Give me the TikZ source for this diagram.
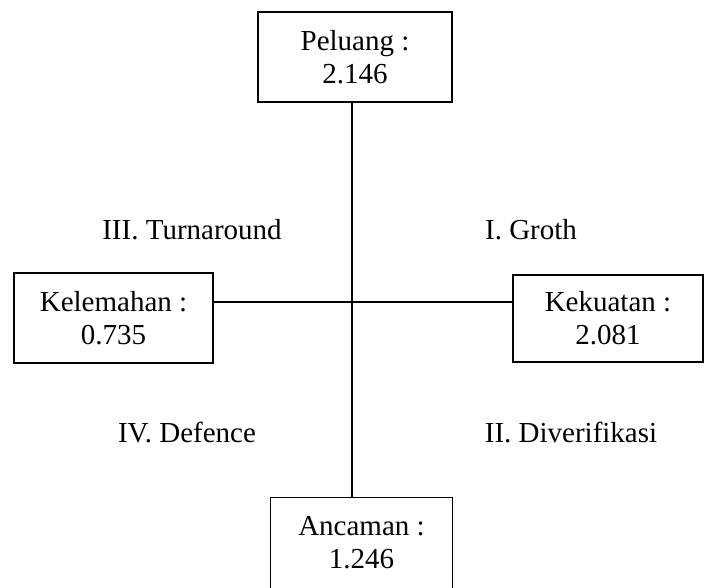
\documentclass[tikz,border=0pt]{standalone}
\usepackage{fontspec}
\setmainfont{Liberation Serif}
\begin{document}
\begin{tikzpicture}[x=1pt,y=-1pt,
  box/.style={draw,line width=1.2pt,inner sep=0pt,align=center,font=\fontsize{29}{33}\selectfont},
  lbl/.style={inner sep=0pt,font=\fontsize{29}{33}\selectfont},
  ln/.style={line width=1.5pt}]
\useasboundingbox (0,0) rectangle (711,587);
\node[box,minimum width=194,minimum height=90] (top) at (355,57) {Peluang :\\2.146};
\node[box,minimum width=199,minimum height=90] (left) at (113.5,318) {Kelemahan :\\0.735};
\node[box,minimum width=190,minimum height=87] (right) at (608,318.5) {Kekuatan :\\2.081};
\node[box,draw=none,minimum width=181,minimum height=90] (bottom) at (361.5,543) {Ancaman :\\1.246};
\draw[line width=1.2pt] (bottom.north west) rectangle ([yshift=-12pt]bottom.south east);
\coordinate (c) at (352,302);
\draw[ln] (c |- top.south) -- (c |- bottom.north);
\draw[ln] (left.east |- c) -- (right.west |- c);
\node[lbl] (q3) at (192,230) {III. Turnaround};
\node[lbl] (q1) at (531,230) {I. Groth};
\node[lbl] (q4) at (187,432) {IV. Defence};
\node[lbl] (q2) at (571,432) {II. Diverifikasi};
\end{tikzpicture}
\end{document}
